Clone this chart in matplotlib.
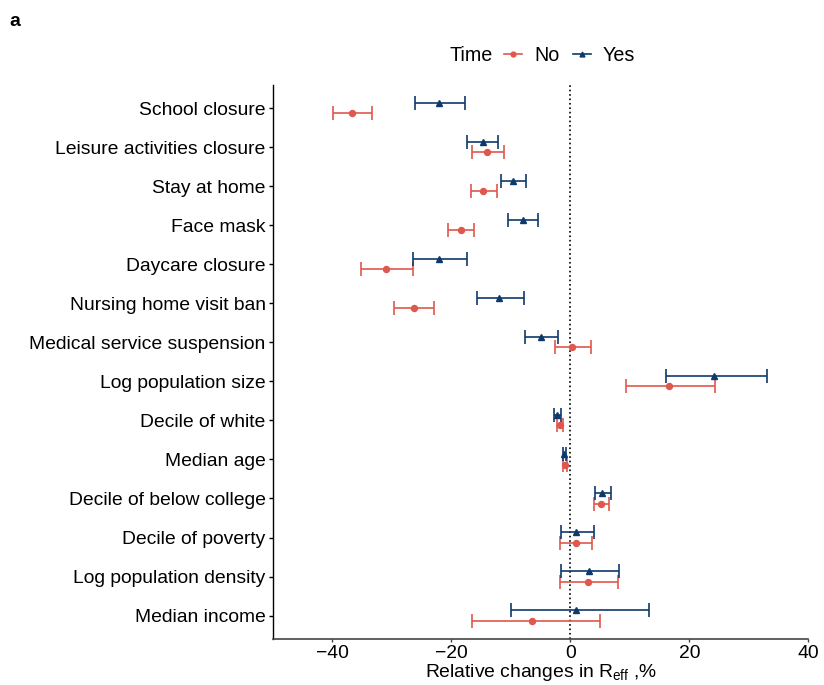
import numpy as np
import matplotlib.pyplot as plt
from matplotlib.lines import Line2D
from matplotlib.offsetbox import HPacker

plt.rcParams['font.family'] = ['Liberation Sans', 'DejaVu Sans']

categories = ["School closure", "Leisure activities closure", "Stay at home", "Face mask",
              "Daycare closure", "Nursing home visit ban", "Medical service suspension",
              "Log population size", "Decile of white", "Median age",
              "Decile of below college", "Decile of poverty", "Log population density",
              "Median income"]

# Time = No
no_est = [-36.6, -14.0, -14.6, -18.4, -30.9, -26.3, 0.3, 16.6, -1.8, -0.9, 5.1, 0.9, 3.0, -6.5]
no_lo = [-39.9, -16.6, -16.7, -20.6, -35.1, -29.6, -2.5, 9.4, -2.3, -1.2, 3.9, -1.7, -1.7, -16.6]
no_hi = [-33.3, -11.2, -12.4, -16.1, -26.4, -22.9, 3.4, 24.3, -1.2, -0.6, 6.5, 3.7, 8.0, 5.0]

# Time = Yes
yes_est = [-22.1, -14.7, -9.6, -8.0, -22.0, -11.9, -4.9, 24.2, -2.2, -1.0, 5.4, 1.0, 3.2, 0.9]
yes_lo = [-26.1, -17.3, -11.7, -10.5, -26.5, -15.7, -7.6, 16.0, -2.8, -1.3, 4.2, -1.6, -1.6, -10.0]
yes_hi = [-17.7, -12.1, -7.4, -5.4, -17.4, -7.8, -2.1, 33.0, -1.6, -0.7, 6.8, 4.0, 8.2, 13.3]

red = "#E0584D"
blue = "#0E3A6B"

fig = plt.figure(figsize=(8.24, 6.85), dpi=100)
ax = fig.add_axes([0.331, 0.0672, 0.650, 0.809])

n = len(categories)
y = np.arange(n)[::-1].astype(float)
off = 0.13

for est, lo, hi, col, mk, dy in [(no_est, no_lo, no_hi, red, 'o', -off),
                                  (yes_est, yes_lo, yes_hi, blue, '^', off)]:
    est = np.array(est)
    err = [est - np.array(lo), np.array(hi) - est]
    ax.errorbar(est, y + dy, xerr=err, fmt=mk, color=col, ms=4.3, lw=1.2,
                capsize=4.7, capthick=1.2, elinewidth=1.2)

ax.axvline(0, color='black', ls=':', lw=1.2, zorder=0)

ax.set_xlim(-50, 40)
ax.set_ylim(-0.6, n - 1 + 0.6)
ax.set_xticks([-40, -20, 0, 20, 40])
ax.set_xticklabels(['\u221240', '\u221220', '0', '20', '40'])
ax.set_yticks(y)
ax.set_yticklabels(categories)
ax.tick_params(axis='both', labelsize=13.9, colors='black', width=1)
ax.tick_params(axis='y', pad=2, length=3.2)
ax.tick_params(axis='x', pad=2, length=2, color='#444444')
ax.spines['top'].set_visible(False)
ax.spines['right'].set_visible(False)
ax.spines['left'].set_linewidth(1)
ax.spines['bottom'].set_linewidth(1.2)
ax.spines['bottom'].set_color('#444444')
ax.set_xlabel(r'Relative changes in R$_{\mathregular{eff}}$ ,%', fontsize=13.9, labelpad=0)

handles = [Line2D([0], [0], color=red, marker='o', ms=3.5, lw=1.2),
           Line2D([0], [0], color=blue, marker='^', ms=3.5, lw=1.2)]
leg = fig.legend(handles, ['No', 'Yes'], title='Time', loc='center', ncol=2,
                 bbox_to_anchor=(0.658, 0.919), frameon=False, fontsize=14.2,
                 title_fontsize=14.2, handlelength=0.9, columnspacing=0.7,
                 handletextpad=0.6)
# put the title on the same row as the entries
box = leg._legend_box
box._children = [HPacker(children=[box._children[0], box._children[1]], pad=0, sep=8.5, align='center')]

fig.text(0.011, 0.962, 'a', fontsize=14, fontweight='bold')

fig.savefig('out.png', dpi=100)
